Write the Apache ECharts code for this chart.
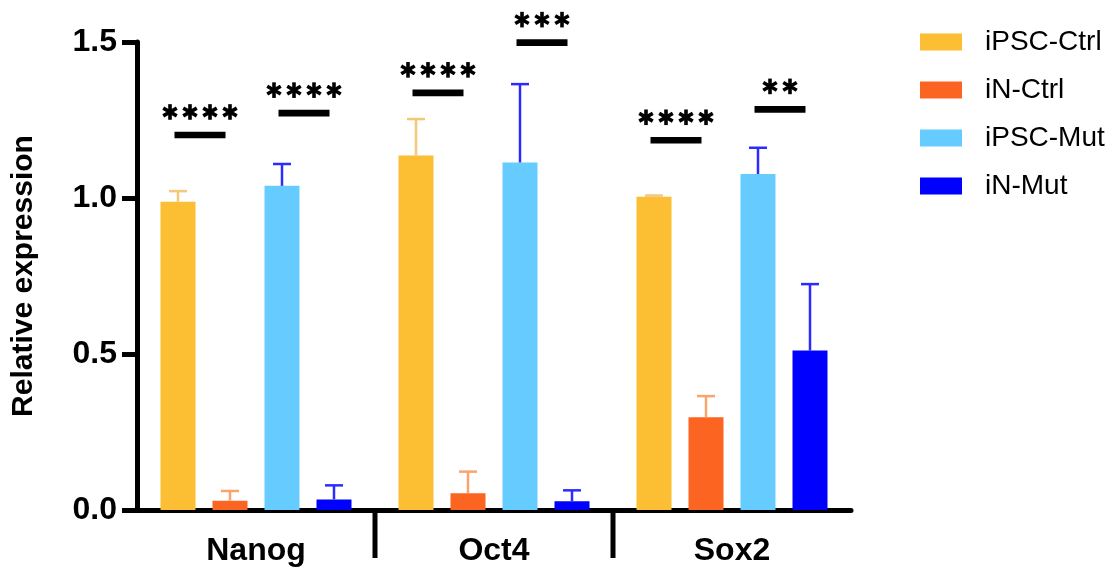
<!DOCTYPE html>
<html>
<head>
<meta charset="utf-8">
<script src="https://cdn.jsdelivr.net/npm/echarts@6/dist/echarts.min.js"></script>
<style>html,body{margin:0;padding:0;background:#fff}#chart{width:1113px;height:581px}</style>
</head>
<body>
<div id="chart"></div>
<script>
// ---- data ----
const categories = ['Nanog', 'Oct4', 'Sox2'];
const seriesNames = ['iPSC-Ctrl', 'iN-Ctrl', 'iPSC-Mut', 'iN-Mut'];
const iPSCCtrl    = [0.988, 1.136, 1.004];
const iPSCCtrlTop = [1.022, 1.253, 1.008];
const iNCtrl      = [0.030, 0.054, 0.297];
const iNCtrlTop   = [0.061, 0.123, 0.365];
const iPSCMut     = [1.039, 1.114, 1.077];
const iPSCMutTop  = [1.109, 1.365, 1.161];
const iNMut       = [0.034, 0.028, 0.511];
const iNMutTop    = [0.079, 0.063, 0.724];
const yTicks = ['0.0', '0.5', '1.0', '1.5'];
// significance annotations
const sigCategory = [0, 0, 1, 1, 2, 2];
const sigPair     = [0, 1, 0, 1, 0, 1];   // 0 = bars 0-1, 1 = bars 2-3
const sigLevel    = [1.202, 1.272, 1.337, 1.498, 1.185, 1.284];
const sigStars    = ['****', '****', '****', '***', '****', '**'];
const dividerAfter = [0, 1];

// ---- styling ----
const FONT = '"Liberation Sans", Arial, Helvetica, sans-serif';
const barColors = ['#FCBE32', '#FC6521', '#66CCFF', '#0000FF'];
const errColors = ['#F4C77A', '#F8A46C', '#2B2BFF', '#2B2BFF'];
const BAR_W = 35, GAP = 17;
const PITCH = BAR_W + GAP;

const means = [iPSCCtrl, iNCtrl, iPSCMut, iNMut];
const tops = [iPSCCtrlTop, iNCtrlTop, iPSCMutTop, iNMutTop];

const series = [];
seriesNames.forEach((name, s) => {
  series.push({
    name: name, type: 'bar', data: means[s],
    barWidth: BAR_W, barGap: (GAP / BAR_W * 100).toFixed(2) + '%',
    itemStyle: { color: barColors[s] }, z: 2
  });
});
seriesNames.forEach((name, s) => {
  series.push({
    type: 'custom', z: 3, silent: true,
    data: categories.map((c, i) => [i, means[s][i], tops[s][i]]),
    renderItem: function (params, api) {
      const b = api.coord([api.value(0), api.value(1)]);
      const t = api.coord([api.value(0), api.value(2)]);
      const x = b[0] + (s - 1.5) * PITCH;
      const st = { stroke: errColors[s], lineWidth: 2.5, fill: null };
      return { type: 'group', children: [
        { type: 'line', shape: { x1: x, y1: b[1], x2: x, y2: t[1] }, style: st },
        { type: 'line', shape: { x1: x - 9, y1: t[1], x2: x + 9, y2: t[1] }, style: st }
      ]};
    }
  });
});
// category dividers below axis
series.push({
  type: 'custom', z: 5, silent: true, clip: false,
  data: dividerAfter.map(i => [i, 0]),
  renderItem: function (params, api) {
    const p = api.coord([api.value(0), 0]);
    const bw = api.size([1, 0])[0];
    const x = p[0] + bw / 2;
    return { type: 'line', shape: { x1: x, y1: p[1], x2: x, y2: p[1] + 48 },
      style: { stroke: '#000', lineWidth: 5 } };
  }
});
// significance bars + stars
series.push({
  type: 'custom', z: 5, silent: true, clip: false,
  data: sigCategory.map((c, i) => [c, sigLevel[i], sigPair[i], sigStars[i].length]),
  renderItem: function (params, api) {
    const p = api.coord([api.value(0), api.value(1)]);
    const pair = api.value(2);
    const n = api.value(3);
    const cx = p[0] + (pair === 0 ? -PITCH : PITCH) - 4;
    const children = [{ type: 'rect', shape: { x: cx - 25.5, y: p[1] - 3.3, width: 51, height: 6.6 },
      style: { fill: '#000' } }];
    const sy = p[1] - 23;
    for (let k = 0; k < n; k++) {
      const sx = cx + (k - (n - 1) / 2) * 20;
      [90, 30, 150].forEach(a => {
        const r = a * Math.PI / 180, L = 7.8;
        children.push({ type: 'line', shape: {
          x1: sx - L * Math.cos(r), y1: sy - L * Math.sin(r),
          x2: sx + L * Math.cos(r), y2: sy + L * Math.sin(r) },
          style: { stroke: '#000', lineWidth: 3.6 } });
      });
    }
    return { type: 'group', children: children };
  }
});

const chart = echarts.init(document.getElementById('chart'), null, { renderer: 'canvas' });
chart.setOption({
  animation: false,
  backgroundColor: '#fff',
  textStyle: { fontFamily: FONT },
  grid: { left: 137, right: 262, top: 42, bottom: 71, containLabel: false },
  legend: {
    data: seriesNames, orient: 'vertical', left: 920, top: 28, padding: 0,
    icon: 'rect', itemWidth: 42, itemHeight: 17, itemGap: 20,
    textStyle: { fontFamily: FONT, fontSize: 28, lineHeight: 28, color: '#000', padding: [0, 0, 0, 18] }
  },
  xAxis: {
    type: 'category', data: categories,
    axisLine: { lineStyle: { color: '#000', width: 5 } },
    axisTick: { show: false },
    axisLabel: { color: '#000', fontFamily: FONT, fontSize: 32, fontWeight: 'bold', margin: 25 }
  },
  yAxis: {
    type: 'value', min: 0, max: 1.5, interval: 0.5,
    name: 'Relative expression', nameLocation: 'middle', nameGap: 98,
    nameTextStyle: { color: '#000', fontFamily: FONT, fontSize: 30, fontWeight: 'bold' },
    axisLine: { show: true, lineStyle: { color: '#000', width: 5 } },
    axisTick: { show: true, length: 15, lineStyle: { color: '#000', width: 5 } },
    splitLine: { show: false },
    axisLabel: { color: '#000', fontFamily: FONT, fontSize: 32, fontWeight: 'bold', margin: 20,
      formatter: function (v) { return yTicks[Math.round(v / 0.5)]; } }
  },
  series: series
});
</script>
</body>
</html>
